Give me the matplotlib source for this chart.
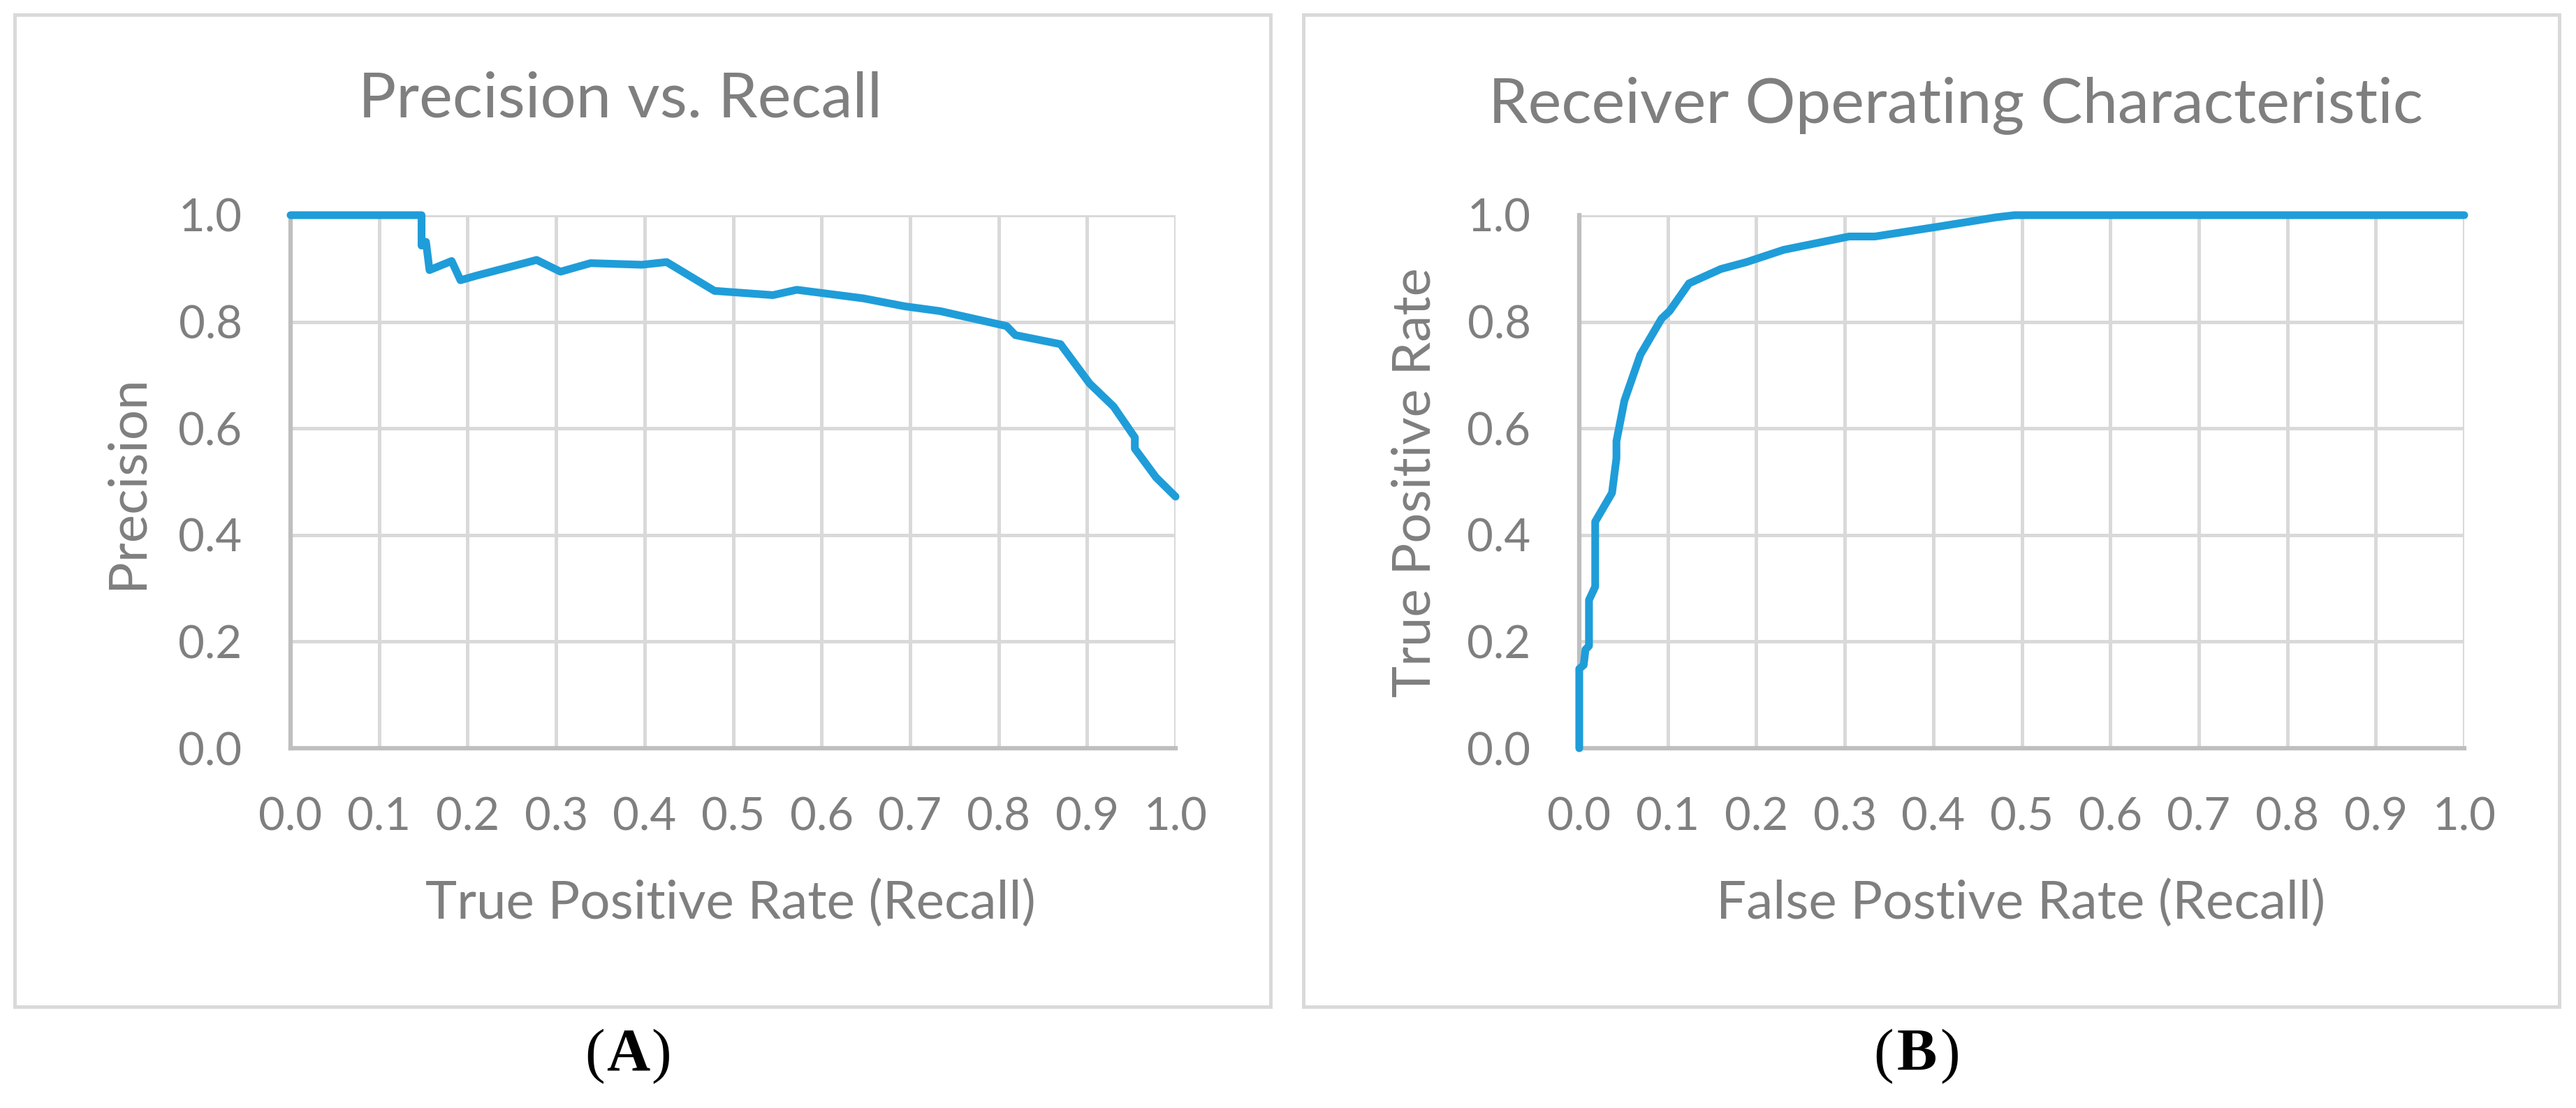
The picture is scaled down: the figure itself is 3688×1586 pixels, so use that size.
import matplotlib
matplotlib.use("Agg")
import matplotlib.pyplot as plt
from matplotlib.patches import Rectangle
import numpy as np

# ---------------- data ----------------
pr_recall = [0.0, 0.148, 0.148, 0.153, 0.157, 0.182, 0.192, 0.211, 0.248, 0.278,
             0.305, 0.339, 0.397, 0.425, 0.479, 0.545, 0.572, 0.647, 0.694, 0.734,
             0.809, 0.819, 0.870, 0.903, 0.930, 0.954, 0.954, 0.978, 1.0]
pr_precision = [1.0, 1.0, 0.943, 0.950, 0.897, 0.914, 0.878, 0.887, 0.903, 0.916,
                0.894, 0.910, 0.907, 0.912, 0.858, 0.850, 0.860, 0.844, 0.829, 0.820,
                0.792, 0.775, 0.758, 0.684, 0.641, 0.583, 0.562, 0.508, 0.472]

roc_fpr = [0.0, 0.0, 0.005, 0.007, 0.011, 0.011, 0.018, 0.018, 0.037, 0.042,
           0.042, 0.051, 0.069, 0.093, 0.102, 0.124, 0.160, 0.189, 0.231, 0.305,
           0.334, 0.404, 0.471, 0.492, 1.0]
roc_tpr = [0.0, 0.149, 0.156, 0.185, 0.192, 0.278, 0.303, 0.425, 0.479, 0.544,
           0.576, 0.652, 0.738, 0.806, 0.820, 0.872, 0.899, 0.912, 0.935, 0.960,
           0.960, 0.978, 0.996, 1.0, 1.0]

x_ticks = [0.0, 0.1, 0.2, 0.3, 0.4, 0.5, 0.6, 0.7, 0.8, 0.9, 1.0]
y_ticks = [0.0, 0.2, 0.4, 0.6, 0.8, 1.0]
x_ticklabels = ["0.0", "0.1", "0.2", "0.3", "0.4", "0.5", "0.6", "0.7", "0.8", "0.9", "1.0"]
y_ticklabels = ["0.0", "0.2", "0.4", "0.6", "0.8", "1.0"]

titles = ["Precision vs. Recall", "Receiver Operating Characteristic"]
xlabels = ["True Positive Rate (Recall)", "False Postive Rate (Recall)"]
ylabels = ["Precision", "True Positive Rate"]
panel_labels = ["A", "B"]

# ---------------- style ----------------
W, H = 3688, 1586
TXT = "#7f7f7f"
GRID = "#d9d9d9"
SPINE = "#bfbfbf"
LINE = "#1f9dd9"
FONT = ["Lato", "DejaVu Sans"]
SERIF = ["Liberation Serif", "DejaVu Serif"]

fig = plt.figure(figsize=(W / 100, H / 100), dpi=100)
fig.patch.set_facecolor("white")

def fx(px):
    return px / W

def fy(py):
    return 1 - py / H

# panel frames
for x0, x1 in [(21, 1819), (1866, 3664)]:
    fig.patches.append(Rectangle((fx(x0), fy(1441)), fx(x1) - fx(x0), fy(21) - fy(1441),
                                 transform=fig.transFigure, fill=False,
                                 edgecolor=GRID, linewidth=3.6, zorder=0))

axes_left_px = [416, 2261]
ax_w_px = 1267
ax_top_px, ax_bot_px = 308, 1071

series = [(pr_recall, pr_precision), (roc_fpr, roc_tpr)]
title_pos = [(888, 167), (2800, 176)]
xlabel_x = [1046, 2893]
ylabel_x = [182, 2026]
panel_x = [899, 2744]

for i in range(2):
    l = axes_left_px[i]
    ax = fig.add_axes([fx(l), fy(ax_bot_px), ax_w_px / W, (ax_bot_px - ax_top_px) / H])
    ax.set_xlim(0, 1)
    ax.set_ylim(0, 1)
    ax.set_xticks(x_ticks)
    ax.set_xticklabels(x_ticklabels)
    ax.set_yticks(y_ticks)
    ax.set_yticklabels(y_ticklabels)
    ax.tick_params(length=0, pad=50, labelsize=47, labelcolor=TXT)
    for lab in ax.get_xticklabels() + ax.get_yticklabels():
        lab.set_family(FONT)
    ax.grid(True, color=GRID, linewidth=3.6)
    ax.set_axisbelow(True)
    for s in ["top", "right"]:
        ax.spines[s].set_visible(False)
    for s in ["left", "bottom"]:
        ax.spines[s].set_color(SPINE)
        ax.spines[s].set_linewidth(4.5)
        ax.spines[s].set_zorder(2.5)
    xs, ys = series[i]
    ax.plot(xs, ys, color=LINE, linewidth=8, solid_joinstyle="round",
            solid_capstyle="round", clip_on=False, zorder=3)

    tx, ty = title_pos[i]
    fig.text(fx(tx), fy(ty), titles[i], ha="center", va="baseline",
             fontsize=65, color=TXT, family=FONT)
    fig.text(fx(xlabel_x[i]), fy(1315), xlabels[i], ha="center", va="baseline",
             fontsize=55, color=TXT, family=FONT)
    fig.text(fx(ylabel_x[i]), fy(690), ylabels[i], ha="center", va="center",
             rotation=90, fontsize=55, color=TXT, family=FONT)
    px = panel_x[i]
    fig.text(fx(px - 33), fy(1532), "(", ha="right", va="baseline",
             fontsize=62, color="black", family=SERIF)
    fig.text(fx(px), fy(1532), panel_labels[i], ha="center", va="baseline",
             fontsize=62, color="black", fontweight="bold", family=SERIF)
    fig.text(fx(px + 33), fy(1532), ")", ha="left", va="baseline",
             fontsize=62, color="black", family=SERIF)

fig.savefig("out.png", dpi=100, facecolor="white")
